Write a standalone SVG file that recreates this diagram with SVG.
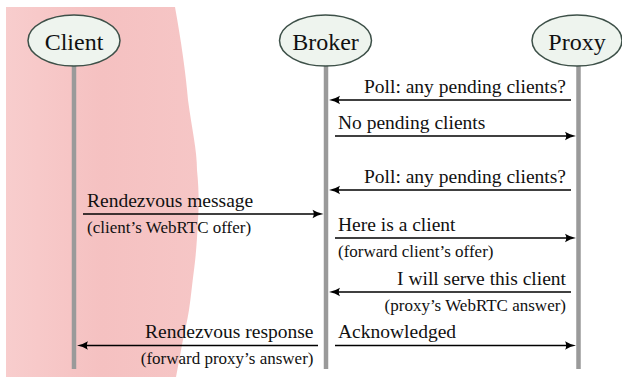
<svg xmlns="http://www.w3.org/2000/svg" width="622" height="379" viewBox="0 0 622 379">
  <style>
    text { font-family: "Liberation Serif", "Times New Roman", serif; fill: #111; }
    .node ellipse { fill: #eef4ee; stroke: #3d5048; stroke-width: 1.5; }
    .node text { font-size: 24px; text-anchor: middle; }
    .life { stroke: #9a9a9a; stroke-width: 4.5; }
    .msg { stroke: #000; stroke-width: 1.6; fill: none; marker-end: url(#ah); }
    .lbl { font-size: 19.5px; }
    .sub { font-size: 17px; }
    .r { text-anchor: end; }
  </style>
  <defs>
    <marker id="ah" markerUnits="userSpaceOnUse" markerWidth="20" markerHeight="20" refX="0" refY="0" viewBox="-10 -10 20 20" orient="auto" overflow="visible">
      <path d="M6,0 Q0,-1 -5,-4.2 Q-2.5,0 -5,4.2 Q0,1 6,0 Z" fill="#000"/>
    </marker>
    <linearGradient id="wash" x1="0" y1="0" x2="1" y2="0">
      <stop offset="0" stop-color="#f8cdcd"/>
      <stop offset="0.5" stop-color="#f5c1c1"/>
      <stop offset="1" stop-color="#f6c6c6"/>
    </linearGradient>
  </defs>
  <rect x="0" y="0" width="622" height="379" fill="#ffffff"/>
  <path d="M6,7 L175,7 C181,40 186,75 188,100 C192,130 197,150 197,170 C199,190 199,205 198,220 C197,240 196,255 194,270 C192,285 191,297 189,310 C187,322 184,335 182,345 C180,356 178,366 176,377 L6,377 Z" fill="url(#wash)"/>

  <g id="client" class="node">
    <line class="life" x1="74" y1="65" x2="74" y2="369"/>
    <ellipse cx="74" cy="40.5" rx="46" ry="25.5"/>
    <text x="74" y="49.5">Client</text>
  </g>
  <g id="broker" class="node">
    <line class="life" x1="326" y1="65" x2="326" y2="369"/>
    <ellipse cx="325.5" cy="40.5" rx="46" ry="25.5"/>
    <text x="325.5" y="49.5">Broker</text>
  </g>
  <g id="proxy" class="node">
    <line class="life" x1="578.5" y1="65" x2="578.5" y2="369"/>
    <ellipse cx="577" cy="40.5" rx="45" ry="25.5"/>
    <text x="577" y="49.5">Proxy</text>
  </g>

  <g id="connectors">
    <line class="msg" x1="571" y1="100" x2="335" y2="100"/>
    <text class="lbl r" x="566" y="92.5">Poll: any pending clients?</text>

    <line class="msg" x1="335" y1="136" x2="570" y2="136"/>
    <text class="lbl" x="338" y="128.5">No pending clients</text>

    <line class="msg" x1="571" y1="190" x2="335" y2="190"/>
    <text class="lbl r" x="566" y="182.5">Poll: any pending clients?</text>

    <line class="msg" x1="83" y1="214" x2="317.5" y2="214"/>
    <text class="lbl" x="87" y="206.5">Rendezvous message</text>
    <text class="sub" x="87" y="232.5">(client’s WebRTC offer)</text>

    <line class="msg" x1="335" y1="238" x2="570" y2="238"/>
    <text class="lbl" x="338" y="230.5">Here is a client</text>
    <text class="sub" x="338" y="256.5">(forward client’s offer)</text>

    <line class="msg" x1="571" y1="292" x2="335" y2="292"/>
    <text class="lbl r" x="566" y="284.5">I will serve this client</text>
    <text class="sub r" x="566" y="310.5">(proxy’s WebRTC answer)</text>

    <line class="msg" x1="318" y1="345.5" x2="83" y2="345.5"/>
    <text class="lbl r" x="313.5" y="338">Rendezvous response</text>
    <text class="sub r" x="313.5" y="364">(forward proxy’s answer)</text>

    <line class="msg" x1="335" y1="345.5" x2="570" y2="345.5"/>
    <text class="lbl" x="338" y="338">Acknowledged</text>
  </g>
</svg>
